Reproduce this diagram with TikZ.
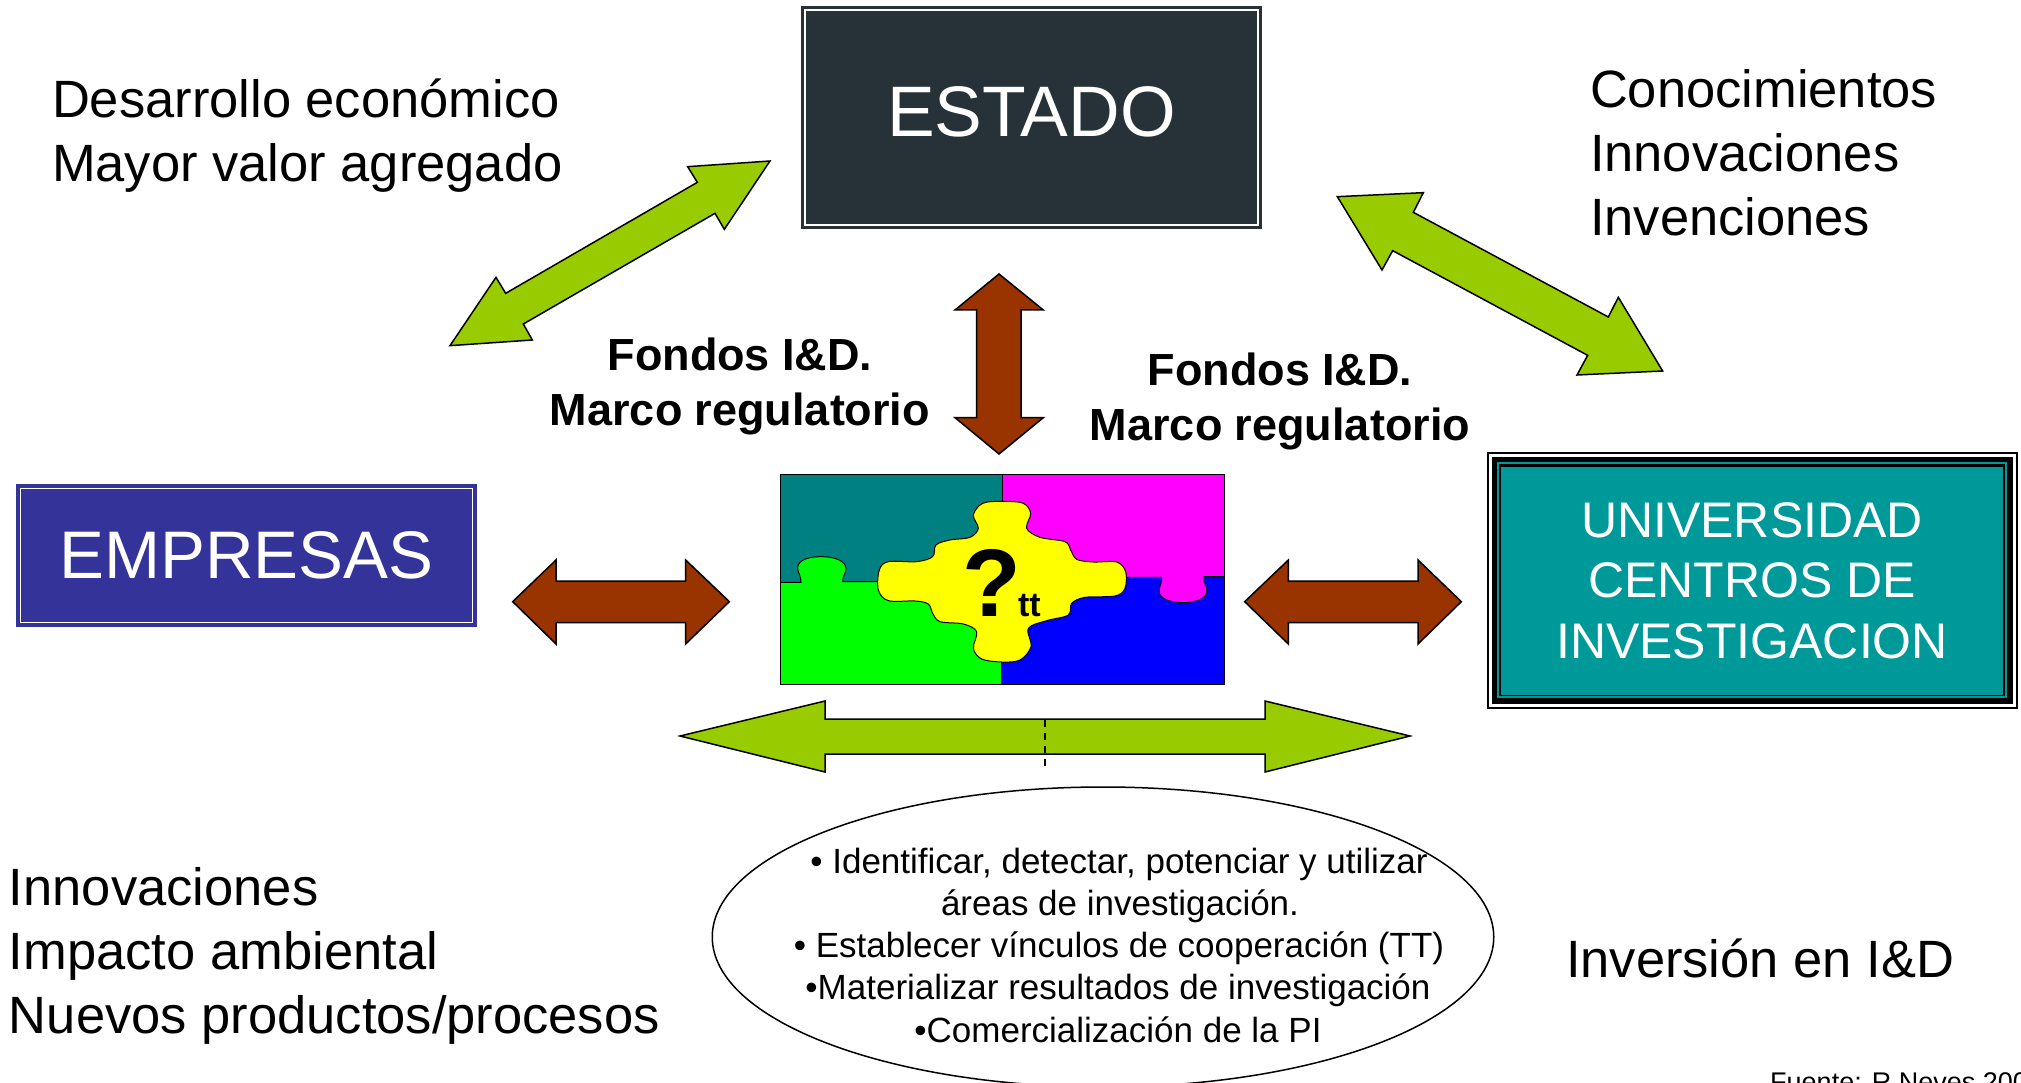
\documentclass[tikz,border=0pt]{standalone}
\usepackage{fontspec}
\setmainfont{Liberation Sans}
\usetikzlibrary{calc,shapes.geometric}
\definecolor{leaf}{HTML}{99CC00}
\definecolor{rust}{HTML}{993300}
\definecolor{slatebox}{HTML}{263238}
\definecolor{indigobox}{HTML}{333399}
\definecolor{tealbox}{HTML}{009999}
\definecolor{pieceteal}{HTML}{008080}
\definecolor{piecemagenta}{HTML}{FF00FF}
\definecolor{pieceyellow}{HTML}{FFFF00}
\definecolor{piecegreen}{HTML}{00FF00}
\definecolor{pieceblue}{HTML}{0000FF}
\newcommand{\fsize}[2]{\fontsize{#1}{#2}\selectfont}
\tikzset{
  x=1pt,y=-1pt,
  titlebox/.style={rectangle,inner sep=0pt,outer sep=0pt,text=white,align=center},
  blockgreen/.style={fill=leaf,draw=black,line width=1.5pt,line join=miter},
  blockbrown/.style={fill=rust,draw=black,line width=1.5pt,line join=miter},
  sidetext/.style={inner sep=0pt,outer sep=0pt,align=left,font=\fsize{52.5}{64}},
  boldtext/.style={inner sep=0pt,outer sep=0pt,align=center,font=\bfseries\fsize{45}{54.5}},
  listline/.style={inner sep=0pt,outer sep=0pt,anchor=base,font=\fsize{35}{42}},
  piece/.style={draw=black,line width=1pt},
}
\begin{document}
\begin{tikzpicture}
\clip (0,0) rectangle (2021,1083);
\fill[white] (0,0) rectangle (2021,1083);

% Title boxes
\node[titlebox,fill=slatebox,minimum width=461pt,minimum height=223pt,
      text height=50pt,text depth=11pt,font=\fsize{71.5}{84}] (estado) at (1031.5,117.5) {ESTADO};
\draw[white,line width=1.6pt] ($(estado.north west)+(4,4)$) rectangle ($(estado.south east)+(-4,-4)$);

\node[titlebox,fill=indigobox,minimum width=461pt,minimum height=143pt,
      font=\fsize{67.3}{80}] (empresas) at (246.5,555.5) {EMPRESAS};
\draw[white,line width=1.6pt] ($(empresas.north west)+(4.5,4.5)$) rectangle ($(empresas.south east)+(-4.5,-4.5)$);

% Layered frame around the research box
\fill[black] (1486.5,451.5) rectangle (2017.5,708.5);
\fill[white] (1488.5,453.5) rectangle (2015.5,706.5);
\fill[black] (1491.5,456.5) rectangle (2012.5,703.5);
\fill[tealbox] (1497,462) rectangle (2007,698);
\fill[black] (1499,464) rectangle (2005,696);
\node[titlebox,fill=tealbox,minimum width=502pt,minimum height=228pt,
      font=\fsize{50}{60.5}] (universidad) at (1752,580.5) {UNIVERSIDAD\\CENTROS DE\\INVESTIGACION};

% Corner texts
\node[sidetext,anchor=base west] (desarrollo) at (52,182) {Desarrollo económico\\Mayor valor agregado};
\node[sidetext,anchor=base west] (conocimientos) at (1590,236) {Conocimientos\\Innovaciones\\Invenciones};
\node[sidetext,anchor=base west] (innovaciones) at (9,1033) {Innovaciones\\Impacto ambiental\\Nuevos productos/procesos};
\node[sidetext,anchor=base west] (inversion) at (1566,977) {Inversión en I\&D};

\node[boldtext,anchor=base] (fondosizq) at (740,425) {Fondos I\&D.\\Marco regulatorio};
\node[boldtext,anchor=base] (fondosder) at (1280,440) {Fondos I\&D.\\Marco regulatorio};

% Diagonal green arrows
\begin{scope}[shift={(440,150)},x=0.33333pt,y=-0.33333pt]
\draw[blockgreen] (990,33)--(743,50)--(772,97)--(197,430)--(168,382)--(30,587)--(277,570)--(250,522)--(825,190)--(853,238)--cycle;
\end{scope}
\begin{scope}[shift={(1320,180)},x=0.33333pt,y=-0.33333pt]
\draw[blockgreen] (52,50)--(310,38)--(280,97)--(865,411)--(895,352)--(1028,573)--(771,585)--(803,526)--(218,212)--(186,270)--cycle;
\end{scope}

% Brown arrows around the puzzle
\begin{scope}[shift={(940,260)},x=0.33333pt,y=-0.33333pt]
\draw[blockbrown] (177,42)--(310,150)--(243,150)--(243,473)--(310,473)--(177,582)--(45,473)--(110,473)--(110,150)--(45,150)--cycle;
\end{scope}
\begin{scope}[shift={(500,540)},x=0.33333pt,y=-0.33333pt]
\draw[blockbrown] (38,185)--(168,60)--(168,123)--(557,123)--(557,60)--(688,185)--(557,312)--(557,248)--(168,248)--(168,312)--cycle;
\end{scope}
\begin{scope}[shift={(1230,540)},x=0.33333pt,y=-0.33333pt]
\draw[blockbrown] (44,185)--(175,60)--(175,123)--(564,123)--(564,60)--(694,185)--(564,312)--(564,248)--(175,248)--(175,312)--cycle;
\end{scope}

% Puzzle
\begin{scope}[shift={(760,460)},x=0.33333pt,y=-0.33333pt]
\fill[pieceteal] (60,43) rectangle (728,367);
\fill[piecemagenta] (728,43) rectangle (1393,350);
\fill[piecegreen] (60,367) rectangle (725,673);
\fill[pieceblue] (725,350) rectangle (1393,673);
\draw[piece,fill=piecegreen] (60,367)--(123,367) .. controls (124,350) and (112,335) .. (113,322)
   .. controls (115,298) and (150,290) .. (183,290) .. controls (220,290) and (256,300) .. (258,325)
   .. controls (258,340) and (247,350) .. (248,365)--(355,365);
\draw[piece,fill=piecemagenta] (1095,352)--(1205,352) .. controls (1207,370) and (1196,380) .. (1197,395)
   .. controls (1200,418) and (1235,428) .. (1270,428) .. controls (1305,428) and (1340,416) .. (1341,393)
   .. controls (1341,378) and (1329,368) .. (1331,350)--(1393,350);
\draw[piece] (728,43)--(728,125);
\draw[piece] (725,606)--(725,673);
\draw[piece] (60,43) rectangle (1393,673);
\draw[piece,fill=pieceyellow] plot[smooth cycle,tension=0.55] coordinates {
  (728,124)(790,130)(812,160)(800,205)(840,232)(915,245)(932,270)(950,298)(1000,306)(1070,306)(1097,335)
  (1095,385)(1065,408)(975,412)(935,430)(925,465)(860,482)(805,505)(813,560)(780,600)
  (725,606)(665,597)(640,565)(650,515)(610,492)(540,485)(518,460)(505,432)(465,423)(385,422)(355,390)
  (358,330)(385,305)(470,305)(518,290)(528,255)(570,240)(630,232)(655,205)(640,165)(668,130)};
\node[inner sep=0pt,anchor=base,font=\bfseries\fsize{96}{96}] (interrogante) at (695,468) {?};
\node[inner sep=0pt,anchor=base,font=\bfseries\fsize{34}{34}] (tt) at (808,470) {tt};
\end{scope}

% Wide green arrow with its dashed tick
\draw[blockgreen] (680,736)--(825,701)--(825,719)--(1265,719)--(1265,701)--(1410,736)--(1265,772)--(1265,754)--(825,754)--(825,772)--cycle;
\coordinate (ticktop) at (1045,720);
\coordinate (tickbottom) at (1045,769);
\draw[black,line width=1.2pt,dash pattern=on 7pt off 6pt] (ticktop) -- (tickbottom);

% Ellipse and its list
\node[ellipse,draw=black,line width=1.5pt,fill=white,minimum width=781.5pt,minimum height=300pt,inner sep=0pt] (vinculo) at (1103,937) {};
\node[listline] (lineaA) at (1119,873) {• Identificar, detectar, potenciar y utilizar};
\node[listline] (lineaB) at (1120,915) {áreas de investigación.};
\node[listline] (lineaC) at (1119,957) {• Establecer vínculos de cooperación (TT)};
\node[listline] (lineaD) at (1118,999) {•Materializar resultados de investigación};
\node[listline] (lineaE) at (1118,1042) {•Comercialización de la PI};

% Source note, running off the page edge
\node[inner sep=0pt,anchor=base west,font=\fsize{27}{30}] (fuente) at (1770,1091) {Fuente: R.Neves 200};
\end{tikzpicture}
\end{document}
